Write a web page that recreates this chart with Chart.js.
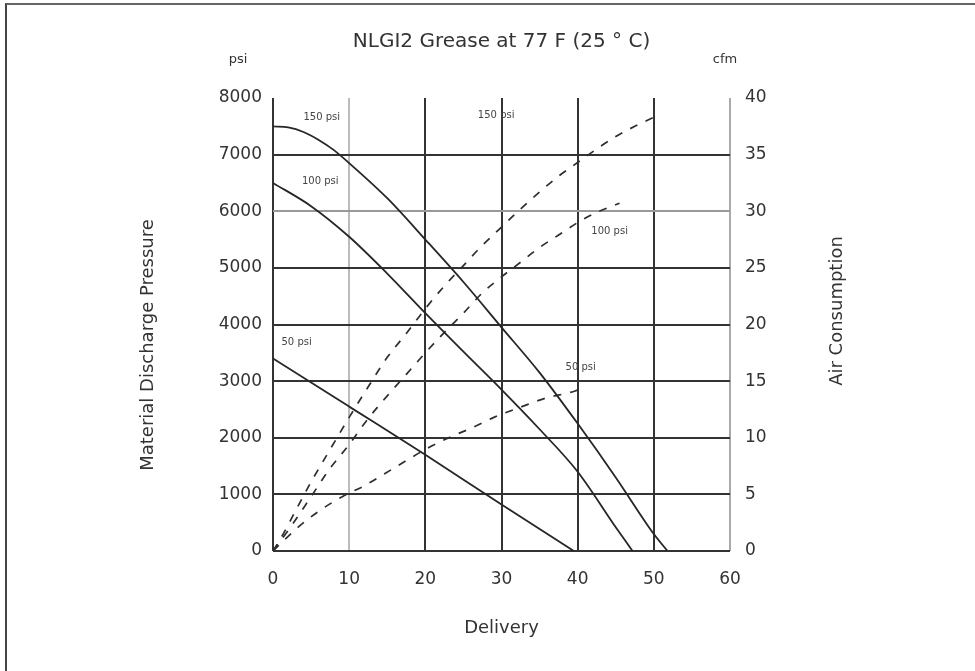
<!DOCTYPE html>
<html>
<head>
<meta charset="utf-8">
<title>NLGI2 Grease at 77 F (25 ° C)</title>
<script src="https://cdn.jsdelivr.net/npm/chart.js@4.4.1/dist/chart.umd.min.js"></script>
<style>
  html,body{margin:0;padding:0;background:#fff;}
  #wrap{position:relative;width:975px;height:671px;}
  #frame{position:absolute;left:5px;top:3px;right:0;bottom:0;border-top:2px solid #666;border-left:2px solid #444;pointer-events:none;}
</style>
</head>
<body>
<div id="wrap"><canvas id="chart" width="975" height="671"></canvas><div id="frame"></div></div>
<script>
// delivery (x) vs material discharge pressure (psi), solid curves
const solid150X = [0, 2, 4, 6, 8, 10, 15, 20, 25, 30, 35, 40, 45, 50, 51.8];
const solid150Y = [7500, 7480, 7400, 7260, 7080, 6850, 6230, 5500, 4750, 3950, 3150, 2250, 1300, 300, 0];
const solid100X = [0, 5, 10, 15, 20, 25, 30, 35, 40, 45, 47.2];
const solid100Y = [6500, 6090, 5550, 4900, 4200, 3520, 2850, 2150, 1400, 420, 0];
const solid50X = [0, 10, 20, 30, 39.5];
const solid50Y = [3400, 2550, 1700, 820, 0];

// delivery vs air consumption (cfm), dashed curves
const air150X = [0, 1, 3, 5, 7, 10, 12.5, 15, 17.5, 20, 22.5, 25, 27.5, 30, 32.5, 35, 37.5, 40, 42.5, 45, 47.5, 50];
const air150Y = [0, 1.1, 3.6, 6.1, 8.4, 11.8, 14.5, 17.1, 19.2, 21.4, 23.4, 25.2, 27.0, 28.6, 30.2, 31.7, 33.1, 34.3, 35.5, 36.6, 37.5, 38.3];
const air100X = [0, 2.5, 5, 7.5, 10, 12.5, 15, 17.5, 20, 22.5, 25, 27.5, 30, 32.5, 35, 37.5, 40, 42.5, 45.5];
const air100Y = [0, 2.3, 4.8, 7.3, 9.4, 11.7, 13.7, 15.6, 17.5, 19.3, 21.0, 22.8, 24.2, 25.5, 26.8, 27.9, 29.0, 29.9, 30.7];
const air50X = [0, 3.3, 6.2, 9.1, 12.1, 14.6, 17.3, 20.1, 23.4, 26.2, 29, 32.5, 35.8, 39, 40];
const air50Y = [0, 2.1, 3.6, 4.8, 5.8, 6.8, 7.9, 9.0, 10.1, 10.9, 11.8, 12.7, 13.5, 14.0, 14.2];

const deliveryTicks = [0, 10, 20, 30, 40, 50, 60];
const pressureTicks = [0, 1000, 2000, 3000, 4000, 5000, 6000, 7000, 8000];
const cfmTicks = [0, 5, 10, 15, 20, 25, 30, 35, 40];

const curveNames = ['150 psi', '100 psi', '50 psi'];

// where the curve names sit, in delivery / psi units
const nameSpots = [
  {t: curveNames[0], x: 6.4, y: 7650},
  {t: curveNames[1], x: 6.2, y: 6520},
  {t: curveNames[2], x: 3.1, y: 3690},
  {t: curveNames[0], x: 29.3, y: 7700},
  {t: curveNames[1], x: 44.2, y: 5640},
  {t: curveNames[2], x: 40.4, y: 3250}
];

function pts(xs, ys){ return xs.map((x, i) => ({x: x, y: ys[i]})); }

const FONT = '"DejaVu Sans", Arial, sans-serif';

function solid(label, xs, ys){
  return { label, data: pts(xs, ys), yAxisID: 'y', borderColor: '#262626', borderWidth: 1.8,
    pointRadius: 0, cubicInterpolationMode: 'monotone', fill: false };
}
function dashed(label, xs, ys){
  return { label, data: pts(xs, ys), yAxisID: 'y2', borderColor: '#2e2e2e', borderWidth: 1.7,
    borderDash: [8, 9], pointRadius: 0, cubicInterpolationMode: 'monotone', fill: false };
}

const textPlugin = {
  id: 'texts',
  afterDraw(chart){
    const {ctx, chartArea: a, scales} = chart;
    const xs = scales.x, ys = scales.y;
    ctx.save();
    ctx.fillStyle = '#333';
    ctx.textAlign = 'center';
    ctx.textBaseline = 'middle';
    ctx.font = '20px ' + FONT;
    ctx.fillText('NLGI2 Grease at 77 F (25 ° C)', (a.left + a.right) / 2, a.top - 56);
    ctx.font = '13px ' + FONT;
    ctx.fillText('psi', a.left - 35, a.top - 38);
    ctx.fillText('cfm', a.right - 5, a.top - 38);
    ctx.font = '18px ' + FONT;
    ctx.fillText('Delivery', (a.left + a.right) / 2, a.bottom + 77);
    ctx.save();
    ctx.translate(a.left - 125, a.top + 247);
    ctx.rotate(-Math.PI / 2);
    ctx.fillText('Material Discharge Pressure', 0, 0);
    ctx.restore();
    ctx.save();
    ctx.translate(a.right + 107, a.top + 213);
    ctx.rotate(-Math.PI / 2);
    ctx.fillText('Air Consumption', 0, 0);
    ctx.restore();
    ctx.font = '10px ' + FONT;
    ctx.fillStyle = '#444';
    nameSpots.forEach(s => ctx.fillText(s.t, xs.getPixelForValue(s.x), ys.getPixelForValue(s.y)));
    ctx.restore();
  }
};

const xGrid = v => v === 10 ? '#bbb' : (v === 60 ? '#aaa' : '#333');
const yGrid = v => v === 8000 ? 'rgba(0,0,0,0)' : (v === 6000 ? '#999' : '#333');
const plain = v => String(v);

new Chart(document.getElementById('chart'), {
  type: 'line',
  data: {
    datasets: [
      solid(curveNames[0], solid150X, solid150Y),
      solid(curveNames[1], solid100X, solid100Y),
      solid(curveNames[2], solid50X, solid50Y),
      dashed(curveNames[0] + ' air', air150X, air150Y),
      dashed(curveNames[1] + ' air', air100X, air100Y),
      dashed(curveNames[2] + ' air', air50X, air50Y)
    ]
  },
  options: {
    responsive: false,
    animation: false,
    layout: { padding: { top: 98, left: 0, right: 0, bottom: 0 } },
    plugins: { legend: { display: false }, tooltip: { enabled: false } },
    scales: {
      x: {
        type: 'linear', min: 0, max: 60,
        afterBuildTicks: s => { s.ticks = deliveryTicks.map(v => ({value: v})); },
        afterFit: s => { s.height = 120; },
        border: { display: false },
        grid: { color: c => xGrid(c.tick.value), lineWidth: 2, drawTicks: false },
        ticks: { padding: 18, color: '#333', font: { family: FONT, size: 17 }, callback: plain }
      },
      y: {
        position: 'left', min: 0, max: 8000,
        afterBuildTicks: s => { s.ticks = pressureTicks.map(v => ({value: v})); },
        afterFit: s => { s.width = 273; },
        border: { display: false },
        grid: { color: c => yGrid(c.tick.value), lineWidth: 2, drawTicks: false },
        ticks: { padding: 11, color: '#333', font: { family: FONT, size: 17 }, callback: plain }
      },
      y2: {
        position: 'right', min: 0, max: 40,
        afterBuildTicks: s => { s.ticks = cfmTicks.map(v => ({value: v})); },
        afterFit: s => { s.width = 245; },
        border: { display: false },
        grid: { display: false, drawTicks: false },
        ticks: { padding: 15, color: '#333', font: { family: FONT, size: 17 }, callback: plain }
      }
    }
  },
  plugins: [textPlugin]
});
</script>
</body>
</html>
